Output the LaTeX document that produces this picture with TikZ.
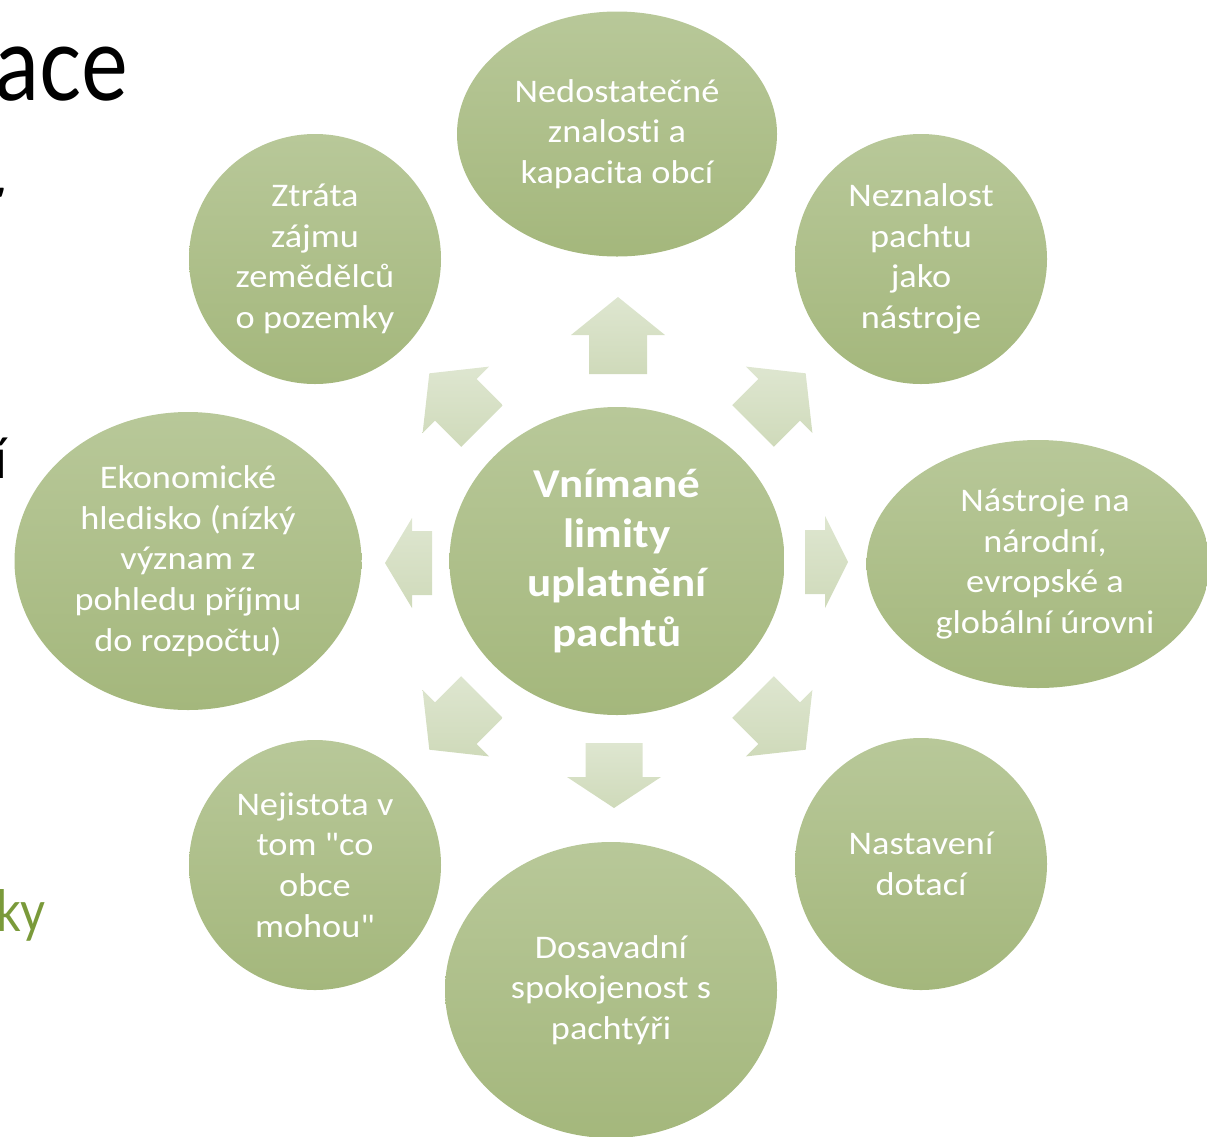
\documentclass[tikz,border=0pt]{standalone}
\usepackage{fontspec}
\setmainfont[FakeStretch=1.1, Ligatures={TeXOff,NoCommon}]{Carlito}
\newfontfamily\slidefont[FakeStretch=0.85]{Lato}
\usetikzlibrary{shapes.geometric,calc}
\definecolor{circtop}{RGB}{184,200,153}
\definecolor{circbot}{RGB}{164,183,124}
\definecolor{arrtop}{RGB}{222,230,208}
\definecolor{arrbot}{RGB}{207,218,186}
\definecolor{slidegreen}{RGB}{122,154,58}
\newcommand\radialarrow[7]{%
  \path[radarrow] ($(#1,#2)+(#3+90:#6)$) -- ($(#1,#2)+(#3+90:#6)+(#3:#4)$)
    -- ($(#1,#2)+(#3:#4)+(#3+90:#7)$) -- ($(#1,#2)+(#3:#4+#5)$)
    -- ($(#1,#2)+(#3:#4)+(#3-90:#7)$) -- ($(#1,#2)+(#3-90:#6)+(#3:#4)$)
    -- ($(#1,#2)+(#3-90:#6)$) -- cycle;}
\begin{document}
\begin{tikzpicture}[x=1pt,y=-1pt,
  bubble/.style={ellipse, inner sep=0pt, top color=circtop, bottom color=circbot,
    draw=none, text=white, align=center, font=\fontsize{33}{40.7}\selectfont},
  hub/.style={bubble, font=\fontsize{41}{49.5}\selectfont\bfseries},
  bubbletext/.style={inner sep=0pt, text=white, align=center, font=\fontsize{33}{40.7}\selectfont},
  radarrow/.style={top color=arrtop, bottom color=arrbot, draw=none},
  slidetext/.style={inner sep=0pt, anchor=base east}]
\useasboundingbox (0,0) rectangle (1207,1136);

% cropped slide text at left edge
\node[slidetext, font=\slidefont\fontsize{104}{110}\selectfont] (title) at (128,100) {ace};
\node[slidetext, font=\slidefont\fontsize{56}{60}\selectfont] (frag1) at (0,229) {ď};
\node[slidetext, font=\slidefont\fontsize{56}{60}\selectfont] (frag2) at (7,478) {í};
\node[slidetext, font=\slidefont\fontsize{57}{60}\selectfont, text=slidegreen] (frag3) at (46,931) {ky};

% bubbles
\node[hub, minimum width=335pt, minimum height=308pt] (hub) at (617,561)
  {Vnímané\\limity\\uplatnění\\pachtů};
\node[bubble, minimum width=320pt, minimum height=245pt] (n1) at (617,134)
  {Nedostatečné\\znalosti a\\kapacita obcí};
\node[bubble, minimum width=252pt, minimum height=250pt] (n2) at (921,259)
  {Neznalost\\pachtu\\jako\\nástroje};
\node[bubble, minimum width=343pt, minimum height=248pt] (n3) at (1038,564) {};
\node[bubbletext] (n3text) at ($(n3)+(7,0)$)
  {Nástroje na\\národní,\\evropské a\\globální úrovni};
\node[bubble, minimum width=252pt, minimum height=252pt] (n4) at (921,864)
  {Nastavení\\dotací};
\node[bubble, minimum width=332pt, minimum height=296pt] (n5) at (611,990)
  {Dosavadní\\spokojenost s\\pachtýři};
\node[bubble, minimum width=252pt, minimum height=250pt] (n6) at (315,865)
  {Nejistota v\\tom "co\\obce\\mohou"};
\node[bubble, minimum width=347pt, minimum height=298pt] (n7) at (188,561)
  {Ekonomické\\hledisko (nízký\\význam z\\pohledu příjmu\\do rozpočtu)};
\node[bubble, minimum width=252pt, minimum height=250pt] (n8) at (315,259)
  {Ztráta\\zájmu\\zemědělců\\o pozemky};

% radial arrows (base x, base y, direction, shaft length, head length, shaft half width, head half width)
\radialarrow{618}{374}{270}{39}{38}{29}{47}
\radialarrow{753}{426}{315}{37}{37.5}{29.5}{47}
\radialarrow{805}{562}{0}{20}{23}{32}{46}
\radialarrow{753}{697}{45}{37}{37.5}{29.5}{47}
\radialarrow{614}{743}{90}{34}{31}{28.5}{47}
\radialarrow{482}{697}{135}{37}{37.5}{29.5}{47}
\radialarrow{432}{563}{180}{20}{27}{32}{45}
\radialarrow{482}{426}{225}{37}{37.5}{29.5}{47}
\end{tikzpicture}
\end{document}
